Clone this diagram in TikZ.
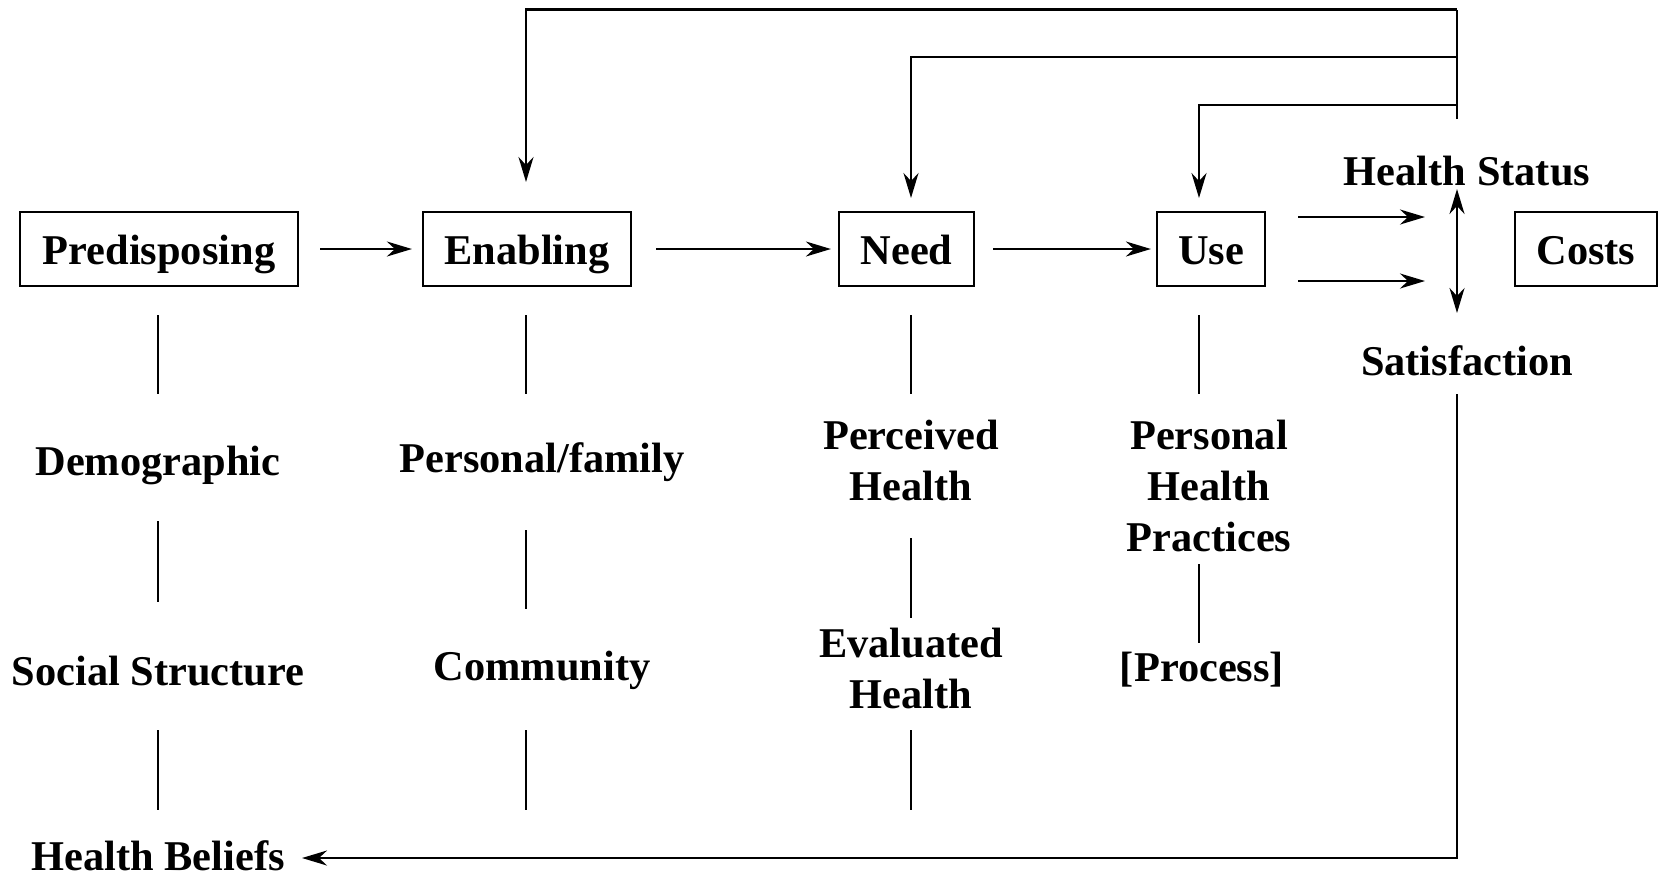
\documentclass[tikz,border=0pt]{standalone}
\usepackage{fontspec}
\setmainfont{Liberation Serif}
\usetikzlibrary{arrows.meta}
\begin{document}
\begin{tikzpicture}[x=0.5pt,y=-0.5pt,
  every node/.style={font=\fontsize{21.2pt}{25.5pt}\selectfont\bfseries},
  lbl/.style={inner sep=0pt, align=center},
  boxn/.style={draw, line width=1.1pt, inner sep=0pt, minimum height=37pt, text height=15pt, text depth=0pt},
  ln/.style={line width=1.1pt},
  arr/.style={line width=1.1pt, -{Stealth[length=12.5pt,width=7.5pt,inset=4pt]}},
  darr/.style={line width=1.1pt, {Stealth[length=12.5pt,width=7.5pt,inset=4pt]}-{Stealth[length=12.5pt,width=7.5pt,inset=4pt]}}]
\useasboundingbox (0,0) rectangle (1659,875);
% boxes
\node[boxn, minimum width=139pt] (pred) at (159,249) {Predisposing};
\node[boxn, minimum width=104pt] (enab) at (527,249) {Enabling};
\node[boxn, minimum width=67.5pt] (need) at (906.5,249) {Need};
\node[boxn, minimum width=54pt] (use) at (1211,249) {Use};
\node[boxn, minimum width=71pt] (costs) at (1586,249) {Costs};
% labels
\node[lbl] (hstat) at (1467,171) {Health Status};
\node[lbl] (satis) at (1467,361) {Satisfaction};
\node[lbl] (demo) at (158,465) {Demographic};
\node[lbl] (social) at (158,671) {Social Structure};
\node[lbl] (hbel) at (158,856) {Health Beliefs};
\node[lbl] (pfam) at (542,462) {Personal/family};
\node[lbl] (comm) at (542,670) {Community};
\node[lbl] (perc) at (911,460) {Perceived\\Health};
\node[lbl] (eval) at (911,668) {Evaluated\\Health};
\node[lbl] (php) at (1209,486) {Personal\\Health\\Practices};
\node[lbl] (proc) at (1202,670) {[Process]};
% main arrows
\draw[arr, shorten <=10.5pt, shorten >=5pt] (pred) -- (enab);
\draw[arr, shorten <=12pt, shorten >=3.5pt] (enab) -- (need);
\draw[arr, shorten <=9pt, shorten >=2.5pt] (need) -- (use);
\coordinate (u1s) at (1298,217); \coordinate (u1e) at (1425,217);
\coordinate (u2s) at (1298,281); \coordinate (u2e) at (1425,281);
\draw[arr] (u1s) -- (u1e);
\draw[arr] (u2s) -- (u2e);
\coordinate (dtop) at (1457,189); \coordinate (dbot) at (1457,313);
\draw[darr] (dtop) -- (dbot);
% feedback top
\coordinate (fb0) at (1457,119);
\draw[ln] (fb0) -- (1457,9.5);
\draw[arr] (1457,9.5) -- (526,9.5) -- (526,182);
\draw[arr] (1457,57) -- (911,57) -- (911,198);
\draw[arr] (1457,105) -- (1199,105) -- (1199,198);
% feedback bottom
\draw[arr] (1457,394) -- (1457,858) -- (302,858);
% separator lines
\draw[ln] (158,315) -- (158,394);
\draw[ln] (158,521) -- (158,602);
\draw[ln] (158,730) -- (158,810);
\draw[ln] (526,315) -- (526,394);
\draw[ln] (526,530) -- (526,609);
\draw[ln] (526,730) -- (526,810);
\draw[ln] (911,315) -- (911,394);
\draw[ln] (911,538) -- (911,618);
\draw[ln] (911,730) -- (911,810);
\draw[ln] (1199,315) -- (1199,394);
\draw[ln] (1199,564) -- (1199,643);
\end{tikzpicture}
\end{document}
